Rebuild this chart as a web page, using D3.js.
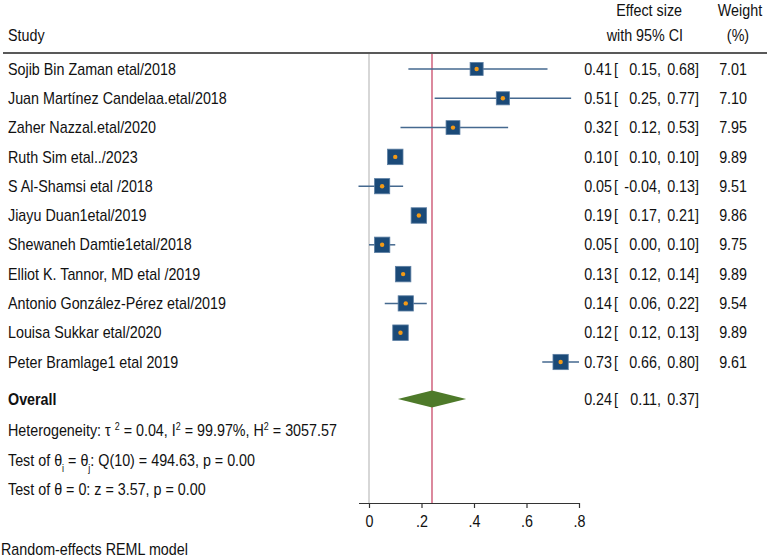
<!DOCTYPE html>
<html><head><meta charset="utf-8">
<script src="https://cdn.jsdelivr.net/npm/d3@7"></script>
<style>body{margin:0;background:#fff}text{font-family:"Liberation Sans",Arial,sans-serif;fill:#111}</style>
</head><body><svg id="c" width="767" height="557"></svg>
<script>
const studies = ["Sojib Bin Zaman etal/2018","Juan Martínez Candelaa.etal/2018","Zaher Nazzal.etal/2020","Ruth Sim etal../2023","S Al-Shamsi etal /2018","Jiayu Duan1etal/2019","Shewaneh Damtie1etal/2018","Elliot K. Tannor, MD etal /2019","Antonio González-Pérez etal/2019","Louisa Sukkar etal/2020","Peter Bramlage1 etal 2019"];
const es = [0.41,0.51,0.32,0.10,0.05,0.19,0.05,0.13,0.14,0.12,0.73];
const lo = [0.15,0.25,0.12,0.10,-0.04,0.17,0.00,0.12,0.06,0.12,0.66];
const hi = [0.68,0.77,0.53,0.10,0.13,0.21,0.10,0.14,0.22,0.13,0.80];
const weights = [7.01,7.10,7.95,9.89,9.51,9.86,9.75,9.89,9.54,9.89,9.61];
const overall = {es:0.24, lo:0.11, hi:0.37};
const xTicks = [0,0.2,0.4,0.6,0.8];
const tickLabels = ["0",".2",".4",".6",".8"];

const svg = d3.select("#c");
const fs = 16, SX = 0.895;
const x = d3.scaleLinear().domain([-0.04,0.8]).range([358.5,579]);
const rowY = d3.scaleLinear().domain([0,10]).range([69,362]);
const yOverall = 399;
const axisY = 503;
const sz = d3.scaleSqrt().domain([0,9.89]).range([0,15.5]);
const f2 = d3.format(".2f");
const fmt = v => f2(v).replace("\u2212","-");

function txt(px, py, s, anchor, bold){
  const t = svg.append("text")
    .attr("transform",`translate(${px},${py}) scale(${SX},1)`)
    .attr("dy","0.35em").attr("text-anchor",anchor||"start")
    .style("font-size",fs+"px").attr("xml:space","preserve");
  if(bold) t.style("font-weight","bold");
  if(s!==null) t.text(s);
  return t;
}

// header
txt(8,35,"Study");
txt(682,10,"Effect size","end");
txt(683,35,"with 95% CI","end");
txt(740,10,"Weight","middle");
txt(738,35,"(%)","middle");
svg.append("line").attr("x1",3).attr("x2",767).attr("y1",53).attr("y2",53).attr("stroke","#222").attr("stroke-width",1.5);

// reference lines
svg.append("line").attr("x1",x(0)).attr("x2",x(0)).attr("y1",54).attr("y2",axisY).attr("stroke","#bdbdbd").attr("stroke-width",1.2);
svg.append("line").attr("x1",x(overall.es)).attr("x2",x(overall.es)).attr("y1",54).attr("y2",axisY).attr("stroke","#c43a5c").attr("stroke-width",1.2);

// axis
const ax = d3.axisBottom(x).tickValues(xTicks).tickFormat((d,i)=>tickLabels[i]).tickSize(5).tickSizeOuter(0);
const g = svg.append("g").attr("transform",`translate(0,${axisY})`).call(ax);
g.select(".domain").attr("stroke","#333").attr("stroke-width",1.2);
g.selectAll(".tick line").attr("stroke","#333").attr("stroke-width",1.2);
g.selectAll(".tick text").attr("y",0).attr("dy",0)
  .attr("transform",`translate(0,24) scale(${SX},1)`)
  .style("font-size",fs+"px").style("font-family","Liberation Sans, Arial, sans-serif").attr("fill","#111");

function valueCols(y, e, l, h){
  txt(612,y,fmt(e),"end");
  txt(614,y,"[");
  txt(657,y,fmt(l),"end");
  txt(657,y,",");
  txt(695,y,fmt(h),"end");
  txt(695,y,"]");
}

// rows
studies.forEach((s,i)=>{
  const y = rowY(i);
  txt(8,y,s);
  svg.append("line").attr("x1",x(lo[i])).attr("x2",x(hi[i])).attr("y1",y).attr("y2",y).attr("stroke","#45698f").attr("stroke-width",1.5);
  const w = sz(weights[i]);
  svg.append("rect").attr("x",x(es[i])-w/2).attr("y",y-w/2).attr("width",w).attr("height",w).attr("fill","#1b4a78").attr("stroke","#5d7fa3").attr("stroke-width",0.8);
  svg.append("circle").attr("cx",x(es[i])).attr("cy",y).attr("r",2.2).attr("fill","#f39a16");
  valueCols(y, es[i], lo[i], hi[i]);
  txt(747,y,fmt(weights[i]),"end");
});

// overall
txt(8,yOverall,"Overall","start",true);
const dh = 8.5;
svg.append("path").attr("d",`M${x(overall.lo)},${yOverall}L${x(overall.es)},${yOverall-dh}L${x(overall.hi)},${yOverall}L${x(overall.es)},${yOverall+dh}Z`).attr("fill","#4e7a2a");
valueCols(yOverall, overall.es, overall.lo, overall.hi);

// stats text
function rich(y, parts){
  const t = txt(8,y,null);
  parts.forEach(p=>{
    const ts = t.append("tspan").text(p[0]);
    if(p[1]==="sup") ts.attr("baseline-shift","super").style("font-size","10px");
    if(p[1]==="sub") ts.attr("baseline-shift","sub").style("font-size","10px");
  });
}
rich(430,[["Heterogeneity: τ "],["2","sup"],[" = 0.04, I"],["2","sup"],[" = 99.97%, H"],["2","sup"],[" = 3057.57"]]);
rich(460,[["Test of θ"],["i","sub"],[" = θ"],["j","sub"],[": Q(10) = 494.63, p = 0.00"]]);
rich(489,[["Test of θ = 0: z = 3.57, p = 0.00"]]);

txt(1,549,"Random-effects REML model");
</script></body></html>
